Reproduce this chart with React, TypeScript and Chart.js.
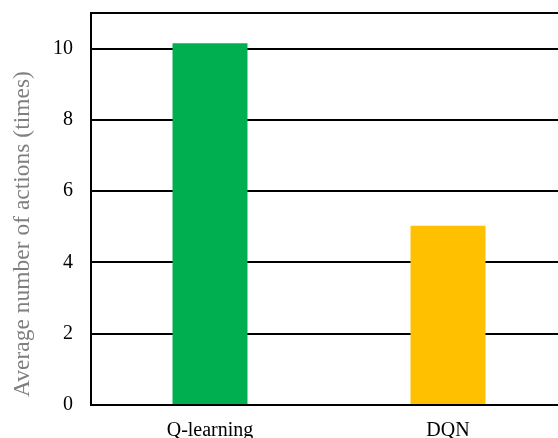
import React, { useEffect, useRef } from "react";
import { Chart, registerables } from "chart.js";

Chart.register(...registerables);

const categories = ["Q-learning", "DQN"];
const values = [10.15, 5.03];
const barColors = ["#00B050", "#FFC000"];
const yTickValues = [0, 2, 4, 6, 8, 10];
const yMax = 11;
const yTitle = "Average number of actions (times)";

const FONT = '"Liberation Serif", "Times New Roman", serif';

export default function App() {
  const ref = useRef<HTMLCanvasElement>(null);
  useEffect(() => {
    const canvas = ref.current!;
    const titlePlugin = {
      id: "yTitle",
      afterDraw(chart: any) {
        const ctx = chart.ctx;
        ctx.save();
        ctx.translate(23, 234);
        ctx.rotate(-Math.PI / 2);
        ctx.font = `23.5px ${FONT}`;
        ctx.fillStyle = "#7F7F7F";
        ctx.textAlign = "center";
        ctx.textBaseline = "middle";
        ctx.fillText(yTitle, 0, 0);
        ctx.restore();
      },
    };
    const chart = new Chart(canvas, {
      type: "bar",
      data: {
        labels: categories,
        datasets: [
          {
            data: values,
            backgroundColor: barColors,
            borderWidth: 0,
            categoryPercentage: 1,
            barPercentage: 0.315,
          },
        ],
      },
      plugins: [titlePlugin],
      options: {
        responsive: false,
        animation: false,
        layout: { padding: { top: 13, left: 0, right: 0, bottom: 0 } },
        plugins: { legend: { display: false }, tooltip: { enabled: false } },
        scales: {
          x: {
            grid: { display: false, drawTicks: false },
            border: { display: true, color: "#000", width: 2 },
            ticks: {
              color: "#000",
              font: { family: FONT, size: 20 },
              padding: 14,
            },
            afterFit(scale: any) {
              scale.height = 33;
              scale.paddingLeft = 0;
              scale.paddingRight = 0;
            },
          },
          y: {
            min: 0,
            max: yMax,
            grid: { color: "#000", lineWidth: 2, drawTicks: false },
            border: { display: true, color: "#000", width: 2 },
            ticks: {
              color: "#000",
              font: { family: FONT, size: 20 },
              padding: 18,
              callback: (v: any) => (yTickValues.includes(v) ? String(v) : ""),
            },
            afterBuildTicks(scale: any) {
              scale.ticks = [...yTickValues, yMax].map((v) => ({ value: v }));
            },
            afterFit(scale: any) {
              scale.width = 91;
              scale.paddingTop = 0;
              scale.paddingBottom = 0;
            },
          },
        },
      },
    });
    return () => chart.destroy();
  }, []);
  return (
    <div
      style={{
        position: "fixed",
        left: 0,
        top: 0,
        width: 558,
        height: 438,
        overflow: "hidden",
        background: "#fff",
      }}
    >
      <canvas ref={ref} width={567} height={438} style={{ display: "block" }} />
    </div>
  );
}
